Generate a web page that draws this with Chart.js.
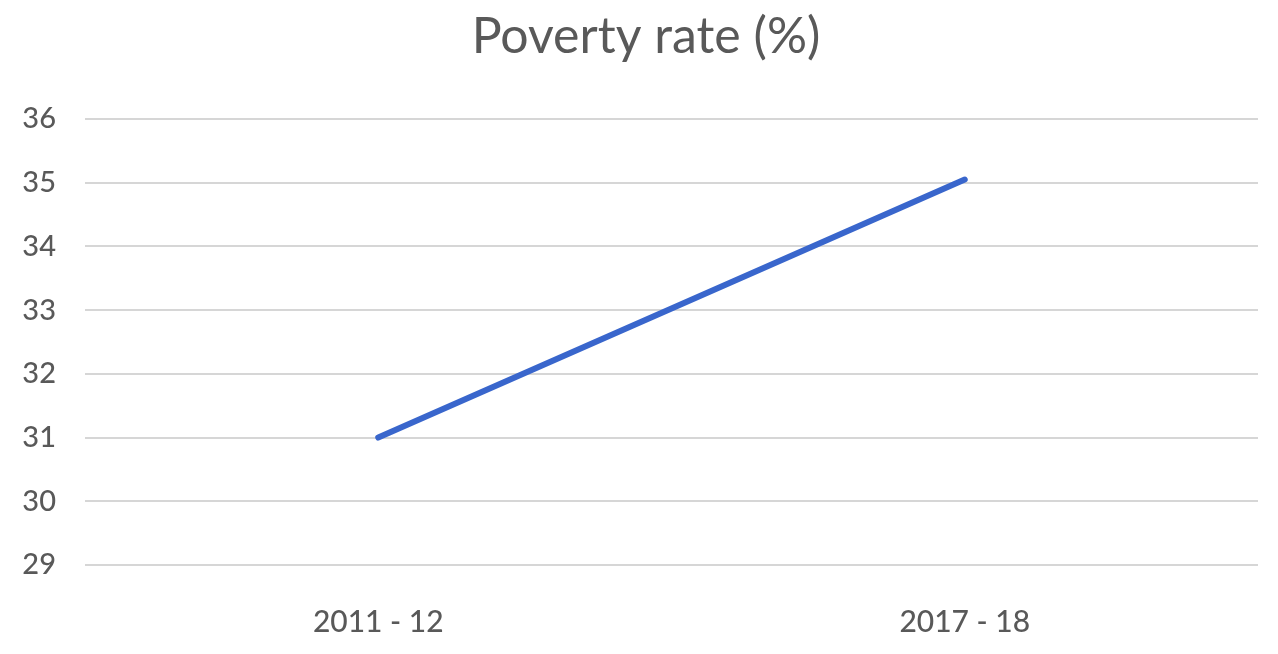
<!DOCTYPE html>
<html>
<head>
<meta charset="utf-8">
<script src="https://cdn.jsdelivr.net/npm/chart.js@4"></script>
<style>
  html, body { margin: 0; padding: 0; background: #fff; }
  #wrap { width: 1278px; height: 654px; }
</style>
</head>
<body>
<div id="wrap"><canvas id="chart" width="1278" height="654"></canvas></div>
<script>
// poverty rate line, two survey rounds
const periods = ['2011 - 12', '2017 - 18'];
const povertyRate = [31.0, 35.05];
const yTicks = [29, 30, 31, 32, 33, 34, 35, 36];

const FONT = 'Lato, "Open Sans", sans-serif';
const GREY = '#595959';

// nudge the title so it is centred a bit right of the canvas centre, like the original
const titleNudge = {
  id: 'titleNudge',
  afterLayout(chart) {
    if (chart.titleBlock) chart.titleBlock.left += 34;
  },
};

new Chart(document.getElementById('chart'), {
  type: 'line',
  data: {
    labels: periods,
    datasets: [{
      label:       'Poverty rate (%)',
      data:        povertyRate,
      borderColor: '#3966cc',
      borderWidth: 6,
      borderCapStyle: 'round',
      pointRadius: 0,
      fill:        false,
      tension:     0,
    }],
  },
  options: {
    responsive: false,
    animation:  false,
    layout: { padding: { left: 0, right: 20, top: 0, bottom: 0 } },
    plugins: {
      legend: { display: false },
      tooltip: { enabled: false },
      title: {
        display: true,
        text:    'Poverty rate (%)',
        color:   GREY,
        font:    { family: FONT, size: 50, weight: 'normal', lineHeight: 1.2 },
        padding: { top: 7, bottom: 52 },
      },
    },
    scales: {
      x: {
        offset: true,
        grid:   { display: false },
        border: { display: false },
        ticks:  { color: GREY, font: { family: FONT, size: 30, weight: '500' }, padding: 31 },
        afterFit(scale) { scale.height = 89; },
      },
      y: {
        min: yTicks[0],
        max: yTicks[yTicks.length - 1],
        afterBuildTicks(scale) { scale.ticks = yTicks.map(v => ({ value: v })); },
        grid:   { color: '#d6d6d6', lineWidth: 2, drawTicks: false },
        border: { display: false },
        ticks:  { color: GREY, font: { family: FONT, size: 29, weight: '500' }, padding: 29 },
        afterFit(scale) { scale.width = 85; },
      },
    },
  },
  plugins: [titleNudge],
});
</script>
</body>
</html>
